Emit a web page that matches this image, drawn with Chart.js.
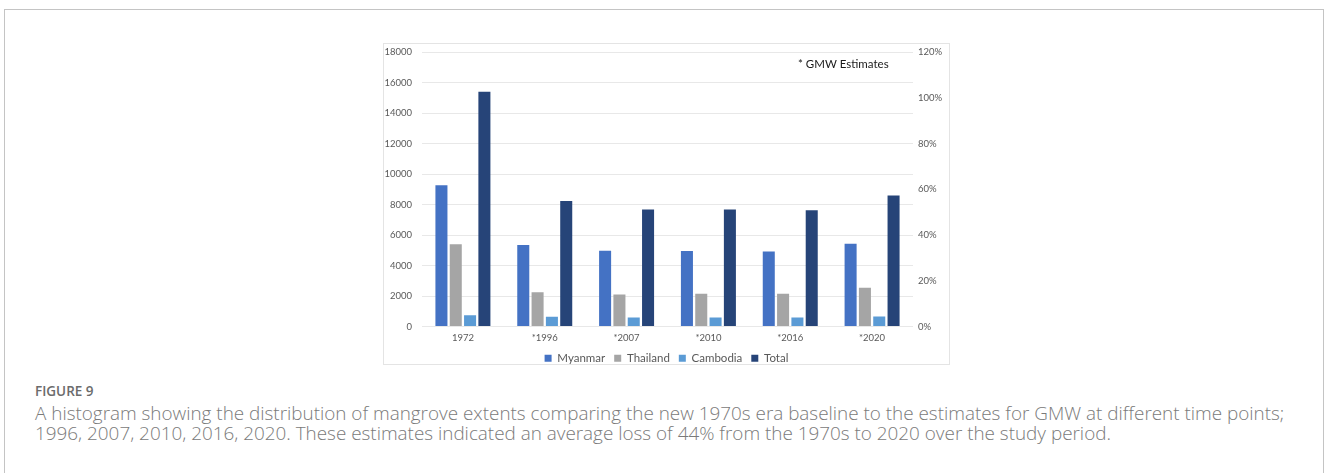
<!DOCTYPE html>
<html>
<head>
<meta charset="utf-8">
<script src="https://cdn.jsdelivr.net/npm/chart.js@4/dist/chart.umd.min.js"></script>
<style>
  html, body { margin: 0; padding: 0; background: #fff; width: 1328px; height: 473px; overflow: hidden; }
  #frame { position: absolute; left: 4px; top: 9px; width: 1320px; height: 520px; border: 1px solid #c4c4c4; box-sizing: border-box; }
  #plotbox { position: absolute; left: 383px; top: 43px; width: 567px; height: 322px; border: 1px solid #e4e4e4; box-sizing: border-box; background: #fff; }
  #plotbox canvas { position: absolute; left: 0; top: 0; }
  .cap { position: absolute; left: 35px; white-space: nowrap; font-family: "Open Sans", Lato, sans-serif; }
  #figlabel { top: 382px; font-size: 13.5px; font-weight: 600; color: #6b6b6b; }
  #line1 { top: 400px; font-size: 16px; font-weight: 300; color: #7a7a7a; }
  #line2 { top: 420px; font-size: 16px; font-weight: 300; color: #7a7a7a; }
</style>
</head>
<body>
<div id="frame"></div>
<div id="plotbox"><canvas id="chart" width="565" height="320"></canvas></div>
<div class="cap" id="figlabel">FIGURE 9</div>
<div class="cap" id="line1">A histogram showing the distribution of mangrove extents comparing the new 1970s era baseline to the estimates for GMW at different time points;</div>
<div class="cap" id="line2">1996, 2007, 2010, 2016, 2020. These estimates indicated an average loss of 44% from the 1970s to 2020 over the study period.</div>
<script>
// Mangrove extent per period (starred years are GMW estimates)
const periods = ['1972', '*1996', '*2007', '*2010', '*2016', '*2020'];
const myanmar  = [9260, 5340, 4970, 4950, 4910, 5430];
const thailand = [5400, 2250, 2100, 2140, 2140, 2540];
const cambodia = [740, 635, 590, 590, 590, 655];
const total    = [15400, 8230, 7665, 7665, 7620, 8585];
const leftTicks  = [0, 2000, 4000, 6000, 8000, 10000, 12000, 14000, 16000, 18000];
const rightTicks = [0, 0.2, 0.4, 0.6, 0.8, 1.0, 1.2];

// Caption: size both lines from the width of the first one
(() => {
  const l1 = document.getElementById('line1');
  const l2 = document.getElementById('line2');
  const w = l1.getBoundingClientRect().width;
  const fs = parseFloat(getComputedStyle(l1).fontSize) * 1250 / w;
  l1.style.fontSize = fs + 'px';
  l2.style.fontSize = fs + 'px';
})();

const tickFont = { family: 'Lato, "Open Sans", sans-serif', size: 9.5 };
const tickColor = '#595959';

// Vertical axes: fixed width, and no extra room reserved above/below for labels
const fixVertical = width => s => { s.width = width; s.paddingTop = 0; s.paddingBottom = 0; };

const noteText = {
  id: 'noteText',
  afterDraw(chart) {
    const ctx = chart.ctx;
    ctx.save();
    ctx.font = '11.5px Lato, "Open Sans", sans-serif';
    ctx.fillStyle = '#1a1a1a';
    ctx.textBaseline = 'middle';
    ctx.fillText('* GMW Estimates', 414, 20);
    ctx.restore();
  }
};

new Chart(document.getElementById('chart'), {
  type: 'bar',
  data: {
    labels: periods,
    datasets: [
      { label: 'Myanmar',  data: myanmar,  backgroundColor: '#4472C4' },
      { label: 'Thailand', data: thailand, backgroundColor: '#A5A5A5' },
      { label: 'Cambodia', data: cambodia, backgroundColor: '#5B9BD5' },
      { label: 'Total',    data: total,    backgroundColor: '#264478' }
    ]
  },
  options: {
    responsive: false,
    animation: false,
    devicePixelRatio: 1,
    layout: { padding: { left: 0, right: 0, top: 8, bottom: -10 } },
    datasets: { bar: { categoryPercentage: 0.7, barPercentage: 0.84 } },
    plugins: {
      legend: {
        position: 'bottom',
        labels: {
          boxWidth: 7, boxHeight: 7, padding: 9,
          font: { family: 'Lato, "Open Sans", sans-serif', size: 11.5 },
          color: '#595959'
        }
      },
      tooltip: { enabled: false }
    },
    scales: {
      x: {
        grid: { display: false, drawTicks: false },
        border: { display: false },
        ticks: { font: tickFont, color: tickColor, padding: 6 },
        afterFit(s) { s.height = 17; }
      },
      y: {
        position: 'left',
        min: 0, max: 18000,
        afterBuildTicks(s) { s.ticks = leftTicks.map(v => ({ value: v })); },
        grid: { color: '#e8e8e8', drawTicks: false },
        border: { display: false },
        ticks: { font: tickFont, color: tickColor, padding: 10, callback: v => String(v) },
        afterFit: fixVertical(38)
      },
      y1: {
        position: 'right',
        min: 0, max: 1.2,
        afterBuildTicks(s) { s.ticks = rightTicks.map(v => ({ value: v })); },
        grid: { display: false, drawTicks: false },
        border: { display: false },
        ticks: { font: tickFont, color: tickColor, padding: 5, callback: v => Math.round(v * 100) + '%' },
        afterFit: fixVertical(36)
      }
    }
  },
  plugins: [noteText]
});
</script>
</body>
</html>
